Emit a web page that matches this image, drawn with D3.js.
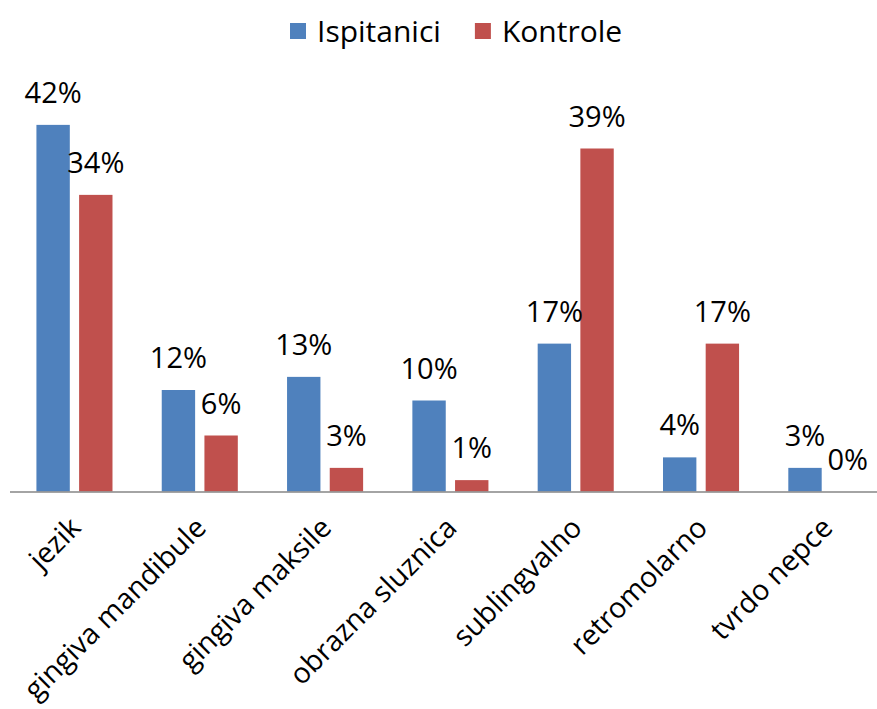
<!DOCTYPE html>
<html>
<head>
<meta charset="utf-8">
<script src="https://cdn.jsdelivr.net/npm/d3@7"></script>
<style>
  html, body { margin: 0; padding: 0; background: #fff; }
  svg { display: block; }
  text { font-family: "Open Sans", sans-serif; fill: #000; }
</style>
</head>
<body>
<script>
const categories = ["jezik", "gingiva mandibule", "gingiva maksile", "obrazna sluznica", "sublingvalno", "retromolarno", "tvrdo nepce"];
const seriesNames = ["Ispitanici", "Kontrole"];
const ispitanici = [41.9, 11.6, 13.1, 10.4, 16.9, 3.9, 2.7];
const kontrole = [33.9, 6.4, 2.7, 1.3, 39.2, 16.9, 0];
const colors = ["#4F81BD", "#C0504D"];

const W = 877, H = 709;
const svg = d3.select("body").append("svg").attr("width", W).attr("height", H);

const x0 = d3.scaleBand().domain(categories).range([11.8, 889]).paddingInner(0.393).paddingOuter(0.1965);
const x1 = d3.scaleBand().domain(seriesNames).range([0, x0.bandwidth()]).paddingInner(0.218).paddingOuter(0);
const y = d3.scaleLinear().domain([0, 50]).range([491.5, 54]);

const data = categories.map((c, i) => ({ cat: c, vals: [
  { s: seriesNames[0], v: ispitanici[i], c: colors[0] },
  { s: seriesNames[1], v: kontrole[i], c: colors[1] }
]}));

const groups = svg.append("g").selectAll("g").data(data).join("g")
  .attr("transform", d => `translate(${x0(d.cat)},0)`);

groups.selectAll("rect").data(d => d.vals).join("rect")
  .attr("x", d => x1(d.s))
  .attr("width", x1.bandwidth())
  .attr("y", d => y(d.v))
  .attr("height", d => y(0) - y(d.v))
  .attr("fill", d => d.c);

groups.selectAll("text.lbl").data(d => d.vals).join("text")
  .attr("class", "lbl")
  .attr("x", d => x1(d.s) + x1.bandwidth() / 2)
  .attr("y", d => y(d.v) - 22)
  .attr("text-anchor", "middle")
  .attr("font-size", 29)
  .text(d => Math.round(d.v) + "%");

// x axis
const xAxis = svg.append("g").attr("transform", `translate(0,${y(0)})`)
  .call(d3.axisBottom(x0).tickSize(0).tickPadding(0));
xAxis.select(".domain").attr("d", `M10,0.5H${W}`).attr("stroke", "#868686").attr("stroke-width", 1.5);
xAxis.selectAll(".tick text")
  .attr("font-size", 28.5)
  .attr("font-family", "Open Sans, sans-serif")
  .attr("fill", "#000")
  .attr("text-anchor", "end")
  .attr("dy", 0)
  .attr("y", 0)
  .attr("transform", "translate(8,38) rotate(-45)");

// legend
const leg = svg.append("g");
let lx = 290;
seriesNames.forEach((s, i) => {
  leg.append("rect").attr("x", lx).attr("y", 23).attr("width", 16).attr("height", 16).attr("fill", colors[i]);
  const t = leg.append("text").attr("x", lx + 27).attr("y", 41.5).attr("font-size", 30).text(s);
  lx = lx + 27 + t.node().getComputedTextLength() + 34;
});
</script>
</body>
</html>
